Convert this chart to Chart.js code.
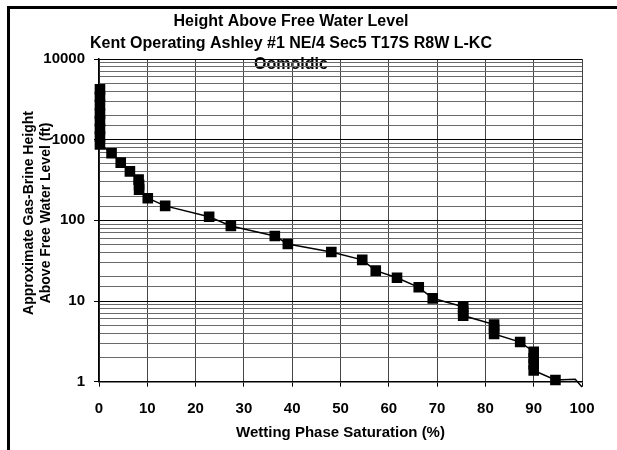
<!DOCTYPE html>
<html>
<head>
<meta charset="utf-8">
<title>Height Above Free Water Level</title>
<script src="https://cdn.jsdelivr.net/npm/chart.js@4/dist/chart.umd.min.js"></script>
<style>
    html, body { margin: 0; padding: 0; background: #fff; }
    #wrap { position: relative; width: 617px; height: 450px; }
</style>
</head>
<body>
<div id="wrap"><canvas id="capChart"></canvas></div>
<script>
// ==========================================================
// Data
// ==========================================================

const titleLines = [
    "Height Above Free Water Level",
    "Kent Operating Ashley #1 NE/4 Sec5 T17S R8W L-KC"
];
const subTitle = "Oomoldic";
const yTitleLines = ["Approximate Gas-Brine Height", "Above Free Water Level (ft)"];
const xTitle = "Wetting Phase Saturation (%)";

// wetting phase saturation (%)
const saturation = [
    0.2, 0.2, 0.2, 0.2, 0.2, 0.2, 0.2, 0.2,
    2.6, 4.5, 6.4, 8.2, 8.3, 8.3, 10.1, 13.7,
    22.8, 27.3, 36.4, 39.1, 48.1, 54.5, 57.3, 61.7,
    66.2, 69.1, 75.4, 75.4, 75.4, 81.8, 81.8, 81.8,
    87.2, 90.0, 90.0, 90.0, 90.0, 94.5, 98.6, 100
];

// height above free water level (ft)
const height = [
    4200, 3400, 2700, 2100, 1700, 1350, 1100, 870,
    680, 520, 405, 320, 275, 240, 188, 151,
    111, 85, 64, 51, 40.5, 32.4, 23.8, 19.4,
    14.8, 10.8, 8.5, 7.5, 6.6, 5.1, 4.5, 3.9,
    3.1, 2.35, 1.95, 1.65, 1.38, 1.05, 1.07, 0.86
];

// last two points are only the trailing curve, no marker
const markerCount = 38;

const xTicks = [0, 10, 20, 30, 40, 50, 60, 70, 80, 90, 100];

// ==========================================================
// Helpers
// ==========================================================

function isDecade(v){
    const l = Math.log10(v);
    return Math.abs(l - Math.round(l)) < 1e-9;
}

const FONT = "'Liberation Sans', Arial, sans-serif";

// frame + free text (titles, rotated y title)
const textPlugin = {
    id: "textPlugin",
    beforeDraw(chart){
        const ctx = chart.ctx;
        ctx.save();
        ctx.fillStyle = "#000";
        ctx.fillRect(7, 6, 3, 450);
        ctx.fillRect(7, 6, 617, 3);

        // sub title sits under the grid lines
        ctx.textAlign = "center";
        ctx.textBaseline = "middle";
        ctx.font = "bold 16px " + FONT;
        ctx.fillText(subTitle, 291, 65);
        ctx.restore();
    },
    afterDraw(chart){
        const ctx = chart.ctx;
        ctx.save();
        ctx.fillStyle = "#000";
        ctx.textAlign = "center";
        ctx.textBaseline = "middle";

        ctx.font = "bold 16px " + FONT;
        ctx.fillText(titleLines[0], 291, 22);
        ctx.fillText(titleLines[1], 291, 44);

        ctx.font = "bold 14px " + FONT;
        ctx.translate(0, 213);
        ctx.rotate(-Math.PI / 2);
        ctx.fillText(yTitleLines[0], 0, 29);
        ctx.fillText(yTitleLines[1], 0, 46);
        ctx.restore();
    }
};

// ==========================================================
// Chart
// ==========================================================

const points = saturation.map((s, i) => ({ x: s, y: height[i] }));

new Chart(document.getElementById("capChart"), {

    type: "scatter",

    data: {
        datasets: [{
            data: points,
            showLine: true,
            borderColor: "#000",
            borderWidth: 1.5,
            backgroundColor: "#000",
            pointStyle: "rect",
            pointRadius: (c) => c.dataIndex < markerCount ? 7.5 : 0,
            pointBorderWidth: 0,
            tension: 0,
            clip: 8
        }]
    },

    options: {
        responsive: true,
        maintainAspectRatio: false,
        animation: false,
        devicePixelRatio: 1,
        layout: {
            padding: { left: 0, top: 59, right: 35, bottom: 0 }
        },
        plugins: {
            legend: { display: false },
            tooltip: { enabled: false },
            title: { display: false }
        },
        scales: {
            x: {
                type: "linear",
                min: 0,
                max: 100,
                afterBuildTicks(scale){
                    scale.ticks = xTicks.map(v => ({ value: v }));
                },
                afterFit(scale){
                    scale.height = 68.3;
                },
                ticks: {
                    color: "#000",
                    font: { family: FONT, size: 15, weight: "bold" },
                    padding: 13,
                    maxRotation: 0
                },
                grid: {
                    color: "#444",
                    lineWidth: 1,
                    tickLength: 5,
                    tickColor: "#000"
                },
                border: { color: "#000", width: 1.5 },
                title: {
                    display: true,
                    text: xTitle,
                    color: "#000",
                    font: { family: FONT, size: 15, weight: "bold" },
                    padding: { top: 4, bottom: 8 }
                }
            },
            y: {
                type: "logarithmic",
                min: 1,
                max: 10000,
                afterFit(scale){
                    scale.width = 99;
                },
                ticks: {
                    autoSkip: false,
                    color: "#000",
                    font: { family: FONT, size: 15, weight: "bold" },
                    padding: 9,
                    callback: (v) => isDecade(v) ? String(v) : ""
                },
                grid: {
                    color: (c) => c.tick && isDecade(c.tick.value) ? "#000" : "#6a6a6a",
                    lineWidth: 1,
                    tickLength: 5,
                    tickColor: (c) => c.tick && isDecade(c.tick.value) ? "#000" : "rgba(0,0,0,0)"
                },
                border: { color: "#000", width: 1.5 }
            }
        }
    },

    plugins: [textPlugin]

});
</script>
</body>
</html>
